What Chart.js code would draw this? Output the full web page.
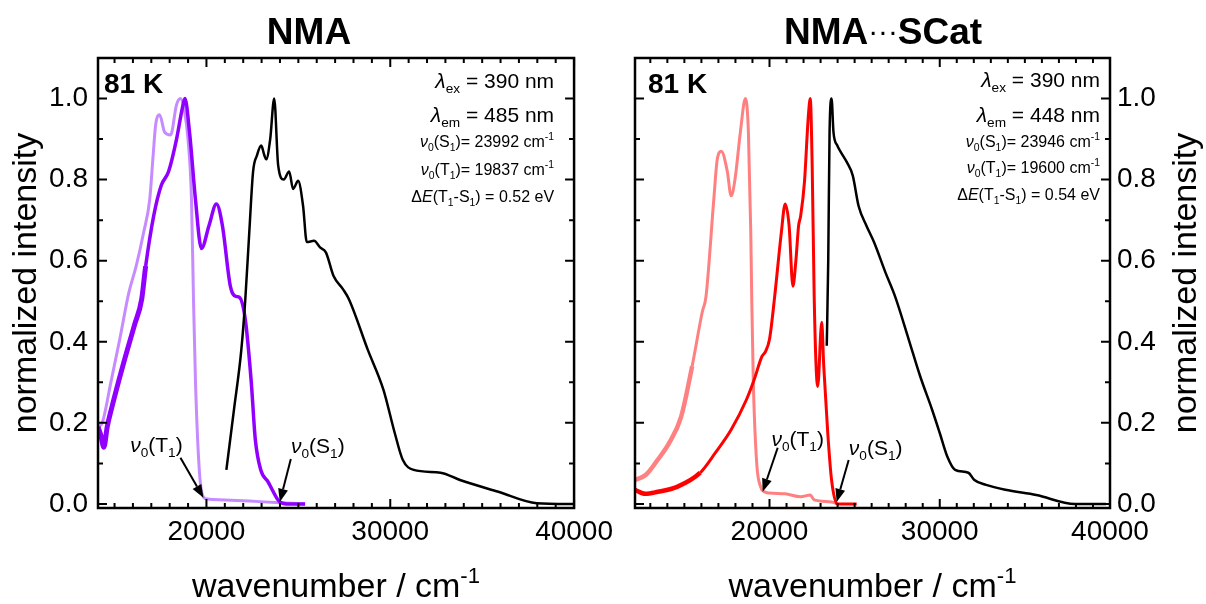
<!DOCTYPE html>
<html>
<head>
<meta charset="utf-8">
<script src="https://cdn.jsdelivr.net/npm/chart.js@4.4.0/dist/chart.umd.min.js"></script>
<style>
  html, body { margin: 0; padding: 0; background: #fff; }
  #wrap { position: relative; width: 1206px; height: 604px; overflow: hidden; }
  canvas { position: absolute; top: 0; }
  #left { left: 0; }
  #right { left: 600px; }
</style>
</head>
<body>
<div id="wrap">
  <canvas id="left" width="620" height="604"></canvas>
  <canvas id="right" width="606" height="604"></canvas>
</div>
<script>
const FONT = '"Liberation Sans", Arial, sans-serif';

// NMA (left) - light purple, dark purple, black
const nmaPhosX = [14100, 14330, 14800, 15300, 15772, 16179, 16585, 16911, 17100, 17236, 17453, 17724, 18049, 18374, 18591, 18800, 18997, 19187, 19295, 19404, 19621, 19837, 20054, 21000, 22330, 24000, 25366];
const nmaPhosY = [0.19, 0.20, 0.30, 0.41, 0.52, 0.587, 0.67, 0.75, 0.86, 0.935, 0.96, 0.917, 0.91, 0.985, 1.0, 0.97, 0.90, 0.75, 0.505, 0.30, 0.077, 0.017, 0.012, 0.010, 0.007, 0.003, 0.0];

const nmaFluoX = [14100, 14250, 14420, 14600, 14824, 15447, 16076, 16477, 16694, 17127, 17534, 17940, 18374, 18683, 18829, 19079, 19404, 19729, 20141, 20542, 20867, 21301, 21599, 21789, 22114, 22439, 22656, 22954, 23360, 23577, 23992, 24500, 25366];
const nmaFluoY = [0.19, 0.17, 0.14, 0.19, 0.233, 0.34, 0.44, 0.505, 0.587, 0.71, 0.785, 0.82, 0.90, 0.975, 1.0, 0.917, 0.75, 0.63, 0.687, 0.74, 0.687, 0.537, 0.512, 0.51, 0.455, 0.30, 0.16, 0.084, 0.054, 0.035, 0.005, 0.0, 0.0];

const nmaAbsX = [21084, 21496, 21897, 22114, 22330, 22537, 22748, 22981, 23150, 23252, 23469, 23686, 23902, 24206, 24499, 24716, 24986, 25257, 25458, 25854, 26179, 26504, 26916, 27425, 27751, 28780, 29626, 30244, 30678, 31274, 32737, 33794, 35880, 37967, 40000];
const nmaAbsY = [0.084, 0.232, 0.38, 0.505, 0.67, 0.82, 0.86, 0.884, 0.86, 0.85, 0.90, 1.0, 0.835, 0.80, 0.82, 0.777, 0.797, 0.735, 0.646, 0.649, 0.633, 0.62, 0.562, 0.53, 0.505, 0.38, 0.282, 0.175, 0.109, 0.084, 0.077, 0.059, 0.030, 0.002, 0.0];

// NMA...SCat (right) - light red, red, black
const scatPhosX = [12100, 12743, 13434, 14100, 14808, 15457, 16047, 16271, 16726, 16932, 17168, 17522, 17746, 17971, 18289, 18584, 18761, 18900, 18960, 19050, 19250, 19500, 19700, 20000, 20920, 21829, 22395, 22625, 23646, 23982];
const scatPhosY = [0.059, 0.072, 0.109, 0.15, 0.215, 0.34, 0.473, 0.512, 0.75, 0.85, 0.87, 0.82, 0.76, 0.80, 0.917, 1.0, 0.917, 0.67, 0.50, 0.30, 0.10, 0.04, 0.03, 0.027, 0.025, 0.018, 0.022, 0.010, 0.005, 0.0];

const scatFluoX = [12100, 12700, 13434, 14572, 15929, 16814, 17746, 18643, 19103, 19557, 19764, 20000, 20300, 20696, 20920, 21150, 21375, 21550, 21711, 21829, 22053, 22283, 22395, 22507, 22625, 22737, 22832, 23068, 23186, 23422, 23646, 23982, 25120];
const scatFluoY = [0.035, 0.025, 0.03, 0.042, 0.077, 0.126, 0.183, 0.257, 0.307, 0.364, 0.376, 0.406, 0.51, 0.67, 0.74, 0.687, 0.537, 0.60, 0.687, 0.71, 0.794, 0.958, 1.0, 0.834, 0.512, 0.34, 0.29, 0.448, 0.34, 0.175, 0.059, 0.0, 0.0];

const scatAbsX = [23363, 23450, 23528, 23646, 23758, 23982, 24189, 24543, 24891, 25233, 25687, 26136, 26820, 27375, 28183, 28850, 29546, 30000, 30442, 30903, 31681, 32035, 32720, 33853, 35670, 37935, 39764];
const scatAbsY = [0.39, 0.60, 0.917, 1.0, 0.917, 0.884, 0.868, 0.843, 0.81, 0.735, 0.687, 0.646, 0.57, 0.512, 0.405, 0.315, 0.233, 0.175, 0.117, 0.084, 0.077, 0.059, 0.047, 0.035, 0.022, 0.0, 0.0];

const xTicks = [20000, 30000, 40000];
const yTicks = [0, 0.2, 0.4, 0.6, 0.8, 1.0];

const nu0S1 = [23992, 23946];
const nu0T1 = [19837, 19600];
const deltaE = ['0.52', '0.54'];
const lamEx = [390, 390];
const lamEm = [485, 448];

// draws a line of text with italic / sub / sup pieces
function rich(ctx, segs, x, y, size, align) {
  const parts = segs.map(s => {
    const o = typeof s === 'string' ? {t: s} : s;
    const sz = (o.sub || o.sup) ? size * 0.65 : (o.s ? size * o.s : size);
    const font = (o.i ? 'italic ' : '') + (o.b ? 'bold ' : '') + sz + 'px ' + FONT;
    ctx.font = font;
    return {t: o.t, font, w: ctx.measureText(o.t).width, dy: o.sub ? size * 0.25 : o.sup ? -size * 0.42 : (o.dy || 0)};
  });
  const total = parts.reduce((s, p) => s + p.w, 0);
  let cx = align === 'right' ? x - total : align === 'center' ? x - total / 2 : x;
  ctx.textAlign = 'left';
  ctx.textBaseline = 'alphabetic';
  for (const p of parts) {
    ctx.font = p.font;
    ctx.fillText(p.t, cx, y + p.dy);
    cx += p.w;
  }
}

function arrow(ctx, x0, y0, x1, y1) {
  const ang = Math.atan2(y1 - y0, x1 - x0), L = 13, W = 5;
  const bx = x1 - L * Math.cos(ang), by = y1 - L * Math.sin(ang);
  ctx.lineWidth = 2;
  ctx.beginPath(); ctx.moveTo(x0, y0); ctx.lineTo(bx, by); ctx.stroke();
  ctx.beginPath();
  ctx.moveTo(x1, y1);
  ctx.lineTo(bx + W * Math.sin(ang), by - W * Math.cos(ang));
  ctx.lineTo(bx - W * Math.sin(ang), by + W * Math.cos(ang));
  ctx.closePath(); ctx.fill();
}

const nuLabel = st => [{t: 'ν', i: 1}, {t: '0', sub: 1}, '(' + st, {t: '1', sub: 1}, ')'];

function framePlugin(p) {
  return {
    id: 'frame',
    afterDraw(chart) {
      const {ctx, chartArea: a, scales: {x, y}} = chart;
      ctx.save();
      ctx.strokeStyle = '#000';
      ctx.fillStyle = '#000';
      ctx.lineWidth = 2.5;
      ctx.strokeRect(a.left, a.top, a.right - a.left, a.bottom - a.top);
      ctx.lineWidth = 2;
      ctx.beginPath();
      for (let v = Math.ceil(x.min / 1000) * 1000; v <= x.max; v += 1000) {
        const px = x.getPixelForValue(v);
        const len = v % 10000 === 0 ? 9 : 5;
        ctx.moveTo(px, a.bottom); ctx.lineTo(px, a.bottom - len);
        ctx.moveTo(px, a.top); ctx.lineTo(px, a.top + len);
      }
      for (let i = 0; i <= 11; i++) {
        const py = y.getPixelForValue(i / 10);
        const len = i % 2 === 0 ? 9 : 5;
        ctx.moveTo(a.left, py); ctx.lineTo(a.left + len, py);
        ctx.moveTo(a.right, py); ctx.lineTo(a.right - len, py);
      }
      ctx.stroke();

      // panel title
      rich(ctx, p.title, p.titleX, 44, 37, 'center');
      // axis titles
      const cxMid = (a.left + a.right) / 2;
      rich(ctx, ['wavenumber / cm', {t: '-1', sup: 1}], cxMid, 597, 34, 'center');
      ctx.save();
      ctx.translate(p.yTitleX, (a.top + a.bottom) / 2);
      ctx.rotate(-Math.PI / 2);
      ctx.font = '34px ' + FONT;
      ctx.textAlign = 'center';
      ctx.textBaseline = 'middle';
      ctx.fillText('normalized intensity', 0, 0);
      ctx.restore();

      // temperature
      rich(ctx, [{t: '81 K', b: 1}], a.left + p.kDx, 93, 28, 'left');

      // parameters
      const i = p.idx, r = a.right - p.txtInset, b = p.baselines;
      rich(ctx, [{t: 'λ', i: 1}, {t: 'ex', sub: 1}, ' = ' + lamEx[i] + ' nm'], r, b[0], 21, 'right');
      rich(ctx, [{t: 'λ', i: 1}, {t: 'em', sub: 1}, ' = ' + lamEm[i] + ' nm'], r, b[1], 21, 'right');
      rich(ctx, nuLabel('S').concat(['= ' + nu0S1[i] + ' cm', {t: '-1', sup: 1}]), r, b[2], 16, 'right');
      rich(ctx, nuLabel('T').concat(['= ' + nu0T1[i] + ' cm', {t: '-1', sup: 1}]), r, b[3], 16, 'right');
      rich(ctx, ['Δ', {t: 'E', i: 1}, '(T', {t: '1', sub: 1}, '-S', {t: '1', sub: 1}, ') = ' + deltaE[i] + ' eV'], r, b[4], 16, 'right');

      // onset arrows
      for (const ar of p.arrows) {
        const tx = x.getPixelForValue(ar.at), ty = y.getPixelForValue(ar.yv);
        arrow(ctx, tx + ar.tail[0], ty + ar.tail[1], tx, ty);
        rich(ctx, nuLabel(ar.st), tx + ar.label[0], ty + ar.label[1], 21, 'center');
      }
      ctx.restore();
    }
  };
}

function ds(xs, ys, color, width, thickBelow) {
  return {
    data: xs.map((x, i) => ({x, y: ys[i]})),
    borderColor: color,
    borderWidth: width,
    pointRadius: 0,
    fill: false,
    cubicInterpolationMode: 'monotone',
    segment: thickBelow ? {borderWidth: c => c.p1.parsed.x < thickBelow ? width + 1.5 : width} : {}
  };
}

function makeChart(id, p, datasets) {
  return new Chart(document.getElementById(id), {
    type: 'line',
    data: {datasets},
    plugins: [framePlugin(p)],
    options: {
      responsive: false,
      animation: false,
      devicePixelRatio: 1,
      events: [],
      layout: {padding: p.padding},
      plugins: {legend: {display: false}, tooltip: {enabled: false}, title: {display: false}},
      scales: {
        x: {
          type: 'linear', min: p.xMin, max: 40000,
          afterBuildTicks: s => { s.ticks = xTicks.map(v => ({value: v})); },
          afterFit: s => { s.height = 96; },
          grid: {display: false, drawTicks: false},
          border: {display: false},
          ticks: {font: {family: FONT, size: 28}, color: '#000', padding: 7, maxRotation: 0, autoSkip: false, callback: v => String(v)}
        },
        y: {
          type: 'linear', position: p.yPos, min: -0.01, max: 1.1,
          afterBuildTicks: s => { s.ticks = yTicks.map(v => ({value: v})); },
          afterFit: s => { s.width = p.yWidth; },
          grid: {display: false, drawTicks: false},
          border: {display: false},
          ticks: {font: {family: FONT, size: 28}, color: '#000', padding: p.yPad, callback: v => v.toFixed(1)}
        }
      }
    }
  });
}

makeChart('left', {
  idx: 0, xMin: 14100, yPos: 'left', yWidth: 98, yPad: 10,
  padding: {top: 58, right: 43, bottom: 0, left: 0},
  title: [{t: 'NMA', b: 1}], titleX: 309, yTitleX: 27, kDx: 6,
  txtInset: 20, baselines: [88, 122, 147, 175, 202],
  arrows: [
    {st: 'T', at: nu0T1[0], yv: 0.015, tail: [-23, -40], label: [-47, -46]},
    {st: 'S', at: nu0S1[0], yv: 0.005, tail: [11, -43], label: [38, -49]}
  ]
}, [
  ds(nmaAbsX, nmaAbsY, '#000000', 2.5),
  ds(nmaFluoX, nmaFluoY, '#9100ff', 3.5, 17000),
  ds(nmaPhosX, nmaPhosY, '#c68cff', 3)
]);

makeChart('right', {
  idx: 1, xMin: 12100, yPos: 'right', yWidth: 96, yPad: 7,
  padding: {top: 58, right: 0, bottom: 0, left: 35},
  title: [{t: 'NMA', b: 1}, {t: '···', s: 0.8, dy: -3}, {t: 'SCat', b: 1}], titleX: 283, yTitleX: 587, kDx: 13,
  txtInset: 10, baselines: [87, 122, 147, 173, 200],
  arrows: [
    {st: 'T', at: nu0T1[1], yv: 0.03, tail: [15, -44], label: [35, -46]},
    {st: 'S', at: nu0S1[1], yv: 0.005, tail: [12, -42], label: [39, -47]}
  ]
}, [
  ds(scatAbsX, scatAbsY, '#000000', 2.5),
  ds(scatFluoX, scatFluoY, '#ff0000', 3, 16500),
  ds(scatPhosX, scatPhosY, '#ff8080', 3, 16000)
]);
</script>
</body>
</html>
